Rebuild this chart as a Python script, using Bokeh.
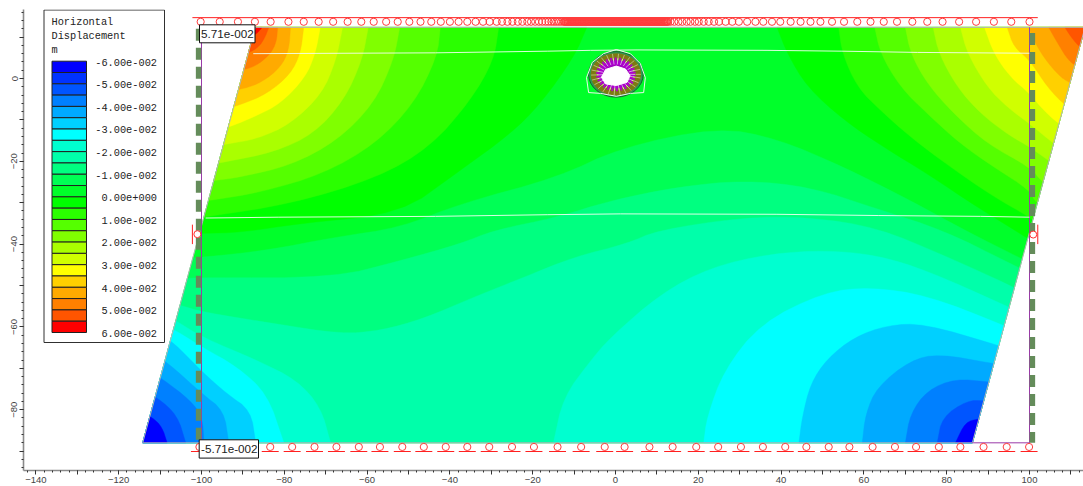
from bokeh.plotting import figure
from bokeh.embed import file_html
from bokeh.resources import INLINE
from bokeh.models import Range1d, FixedTicker
from bokeh.core.properties import value
import numpy as np

# ---- legend
LEGEND_TITLE = ["Horizontal", "Displacement", "m"]
LEGEND_LABELS = ["-6.00e-002", "-5.00e-002", "-4.00e-002", "-3.00e-002", "-2.00e-002", "-1.00e-002", "0.00e+000",
                 "1.00e-002", "2.00e-002", "3.00e-002", "4.00e-002", "5.00e-002", "6.00e-002"]
BAND_COLORS = ["#0000ff", "#0033ff", "#0055ff", "#0080ff", "#00aaff", "#00d0ff", "#00ffff", "#00ffd0", "#00ffaa",
               "#00ff80", "#00ff55", "#00ff2a", "#00ff00", "#2aff00", "#55ff00", "#80ff00", "#aaff00", "#d0ff00",
               "#ffff00", "#ffd000", "#ffaa00", "#ff8000", "#ff5500", "#ff0000"]

# ---- model outline
DOMAIN = [(-114.2, -88.0), (86.2, -88.0), (113.4, 12.35), (-87.0, 12.35)]

# ---- contour lines of the displacement field, level -> (x, y) along the line
TOP_LEFT = {
    0.0: [(-6.9, 12.4), (-10, 5.2), (-18.1, -6.1), (-25.4, -13.4), (-38.2, -22.7), (-51.9, -32.6), (-76.1, -35), (-90.6, -37.2), (-99.8, -37.4), (-106, -37.5)],
    0.005: [(-28.2, 12.4), (-29.4, 4.4), (-35, -5.3), (-44.7, -16.5), (-57.6, -24), (-78.5, -30.3), (-99.4, -33.5), (-104, -34)],
    0.01: [(-42.3, 12.4), (-43.1, 5.2), (-48.7, -6.1), (-58, -15.8), (-70.5, -23), (-85.7, -27.5), (-98.2, -29.5), (-103, -30)],
    0.015: [(-52.1, 12.4), (-53.6, 4.4), (-58.4, -6.1), (-67.2, -15), (-78.5, -21), (-90.6, -23.8), (-96.2, -24.6), (-101, -25)],
    0.02: [(-59.7, 12.4), (-61.2, 4.4), (-65.6, -5.3), (-72.9, -13.4), (-82.5, -17.8), (-94.6, -20.2), (-99, -21)],
    0.025: [(-65.9, 12.4), (-67.5, 4.4), (-70.9, -3.7), (-78.5, -11), (-86.6, -14.6), (-93.8, -15.8), (-99, -16.8)],
    0.03: [(-71.3, 12.4), (-72.5, 6), (-74.9, 0.3), (-80.9, -6.1), (-87.4, -9.3), (-92.2, -11.3), (-96, -12.5)],
    0.035: [(-75.3, 12.4), (-76.1, 6), (-78.5, 1.1), (-84.1, -3.7), (-91, -6.5), (-95, -7.5)],
    0.04: [(-78.5, 12.4), (-78.9, 6.8), (-80.9, 2.7), (-85.4, -0.9), (-89.8, -2.5), (-94, -3)],
    0.045: [(-81.6, 12.4), (-81.9, 8.8), (-83.3, 6), (-86.2, 3.5), (-88.8, 2.3), (-92, 2)],
    0.05: [(-83.7, 12.4), (-84.8, 9.6), (-86.2, 7.6), (-88.5, 6.2), (-92, 5.5)],
    0.055: [(-85.3, 12.4), (-87, 10.4), (-90, 10)],
}
TOP_RIGHT = {
    0.0: [(39, 12.4), (41.5, 6), (46.3, -2.1), (55.2, -10.1), (64.8, -16.6), (75.3, -23), (87.4, -31.1), (99.8, -38.7), (106, -43)],
    0.005: [(53.9, 12.4), (54.8, 6), (58.4, -2.1), (64, -7.7), (71.3, -14.2), (80.9, -21.4), (91.4, -28.6), (100.1, -33.5), (106, -38)],
    0.01: [(62.6, 12.4), (64, 6), (68.8, -2.1), (75.3, -8.5), (83.3, -15.8), (91.4, -21.4), (100.1, -27), (101.5, -30.2), (108, -34)],
    0.015: [(70, 12.4), (71.3, 6), (75.3, -1.3), (81.7, -8.5), (89.8, -15.8), (100.1, -21.4), (103.4, -25.4), (110, -29)],
    0.02: [(76.7, 12.4), (78.1, 6), (82.5, -2.1), (88.2, -8.5), (94.6, -13.4), (100.1, -16.6), (104.6, -19.8), (110, -24)],
    0.025: [(83.3, 12.4), (85, 6), (89.8, -2.1), (94.6, -6.9), (100.1, -11), (105.8, -15.7), (112, -20)],
    0.03: [(89.1, 12.4), (91.4, 6), (95.4, 0.3), (100.1, -3.7), (103.4, -7.7), (107, -10.9), (113, -15)],
    0.035: [(94.6, 12.4), (96.2, 7.6), (100.1, 4.4), (104.3, -2.1), (109, -7), (115, -10)],
    0.04: [(99.8, 12.4), (100.7, 9.9), (103.4, 5.1), (107.5, 0.2), (111.1, -1.7), (116, -2.5)],
    0.045: [(104.6, 12.4), (106.8, 8.5), (109.4, 4.3), (111.8, 2.7), (116, 1.8)],
    0.05: [(108.5, 12.4), (110.6, 9.2), (113, 6.8), (117, 5)],
}
ACROSS = {
    -0.005: [(-105, -43.4), (-99.8, -43.2), (-84.1, -41.5), (-68.1, -38.4), (-51.9, -36), (-37.4, -30.2), (-14, -23.9), (1.2, -16.7), (24.6, -11.8), (39, -14.5), (55.2, -21.4), (71.3, -29.5), (85, -37), (98, -43.5), (105, -47)],
    -0.01: [(-105, -48.3), (-99.8, -48.1), (-68.1, -48.1), (-51.9, -44), (-37.4, -39.9), (-29.5, -36.7), (-14.1, -33.5), (-1.2, -29.5), (14.9, -26.2), (31, -24.6), (47.1, -26.2), (63.2, -31.5), (79.3, -36.7), (95.4, -44.7), (104, -49)],
    -0.015: [(-108, -54), (-105, -54.8), (-99.8, -56.4), (-82.5, -59.2), (-66.4, -61.7), (-56.7, -60.9), (-46.3, -58), (-34.2, -52.8), (-22.1, -48), (-10, -43.1), (2.8, -39.9), (10, -36.7), (31, -33.5), (47.1, -33.5), (63.2, -36), (80, -43), (95.4, -50), (103, -54)],
}
BOTTOM_LEFT = {
    -0.02: [(-108, -57.5), (-105.7, -58.8), (-99.8, -62.5), (-86.5, -68.1), (-76.9, -72.9), (-71.2, -79.4), (-68.8, -88)],
    -0.025: [(-110, -59), (-106.2, -60.9), (-99.8, -64.9), (-91.3, -69.7), (-84.1, -76.2), (-80.1, -88)],
    -0.03: [(-110, -62), (-106.8, -63.7), (-99.8, -70.9), (-93.8, -76.2), (-88.1, -80.2), (-86.9, -88)],
    -0.035: [(-112, -66.5), (-108.3, -68.5), (-99.8, -76.2), (-94.6, -80.2), (-93.4, -88)],
    -0.04: [(-113, -70.5), (-109.5, -72.5), (-102.6, -77.8), (-99.8, -81.8), (-99.4, -88)],
    -0.045: [(-115, -75), (-110.7, -77), (-105.8, -81.4), (-103.8, -88)],
    -0.055: [(-116, -80), (-111.9, -81.8), (-109.5, -84.2), (-108.3, -88)],
}
BOTTOM_RIGHT = {
    -0.02: [(-15, -88), (-12.6, -77), (-6, -68.1), (-1.2, -62.5), (10.9, -52), (22.9, -45.6), (37.4, -42.3), (51.1, -41.5), (63.2, -42.7), (75.3, -46.4), (95, -55.2), (102, -58.5)],
    -0.025: [(21.3, -88), (22.1, -81.8), (26.2, -70.5), (35, -59.2), (50.3, -51.6), (61.6, -50.4), (75.3, -52.4), (93.8, -59.6), (101, -63)],
    -0.03: [(44.3, -88), (45.1, -81.8), (47.1, -73.7), (51.1, -67.7), (57.6, -62.5), (65.6, -59.6), (74.5, -59.2), (92.6, -64.5), (100, -67)],
    -0.035: [(59.6, -88), (60.4, -81), (63.2, -74.5), (71.2, -68.1), (78.1, -66.5), (91.4, -68.9), (99, -70)],
    -0.04: [(70, -88), (71.2, -81), (75.3, -75.3), (82.1, -72.5), (90.2, -73.3), (98, -74)],
    -0.045: [(77.7, -88), (78.9, -81.8), (84.9, -77.8), (89, -77.8), (97, -78)],
    -0.055: [(82.1, -88), (84.5, -83), (87.7, -82.2), (95, -81.5)],
}

# ---- material boundaries (thin pale lines)
BOUNDARY_UPPER = [(-87.5, 6), (-43.5, 6.2), (-16.5, 6.6), (-6, 6.8), (5.2, 6.9), (36.6, 6.8), (54.7, 6.6), (72.9, 6.3), (100, 6.1)]
BOUNDARY_LOWER = [(-99, -33.7), (-81.3, -33.5), (-43.5, -33.3), (-16.5, -32.9), (1.2, -32.7), (39, -32.8), (63.6, -33.1), (88.2, -33.3), (100, -33.5)]

# ---- restraints
TOP_NODES = [-100.2, -95.6, -91.2, -87.1, -83.3, -79, -75.3, -71.7, -68.2, -64.7, -61.4, -58.4, -55.4, -52.6, -49.8, -47.1, -44.5, -42.2, -40, -37.9, -35.8, -33.8, -32, -30.4, -28.7, -27.4, -26.1, -24.9, -23.6, -22.5, -21.3, -20.4, -19.4, -18.5, -17.7, -16.9, -16.2, -15.5, -14.9, -14.3, -13.7, -13.1,
             -12.5, -12.1, -11.7, -11.3, -10.9, -10.5, -10.1, -9.7, -9.3, -8.9, -8.5, -8.1, -7.7, -7.3, -6.9, -6.5, -6.1, -5.7, -5.3, -4.9, -4.5, -4.1, -3.7, -3.3, -2.9, -2.5, -2.1, -1.7, -1.3, -0.9, -0.5, -0.1, 0.3, 0.7, 1.1, 1.5, 1.9, 2.3, 2.7, 3.1, 3.5, 3.9, 4.3, 4.7, 5.1, 5.5, 5.9, 6.3, 6.7, 7.1, 7.5, 7.9, 8.3, 8.7, 9.1, 9.5, 9.9, 10.3, 10.7, 11.1, 11.5, 11.9, 12.3, 12.7,
             13.3, 14.2, 15.2, 16.1, 17.2, 18.1, 19.2, 20.1, 21.3, 22.5, 23.8, 25, 26.6, 28.2, 29.8, 31.8, 33.8, 35.7, 37.8, 39.8, 42.3, 44.7, 47.1, 49.5, 52.3, 55.2, 58.4, 61.6, 64.8, 68, 71.7, 75.3, 79, 83, 87.1, 91.4, 95.6, 100]
TOP_NODES_TIGHT = [-12.3, -11.9, -11.5, -11.1, -10.7, -10.3, -9.9, -9.5, -9.1, -8.7, -8.3, -7.9, -7.5, -7.1, -6.7, -6.3, -5.9, -5.5, -5.1, -4.7, -4.3, -3.9, -3.5, -3.1, -2.7, -2.3, -1.9, -1.5, -1.1, -0.7, -0.3, 0.1, 0.5, 0.9, 1.3, 1.7, 2.1, 2.5, 2.9, 3.3, 3.7, 4.1, 4.5, 4.9, 5.3, 5.7, 6.1, 6.5, 6.9, 7.3, 7.7, 8.1, 8.5, 8.9, 9.3, 9.7, 10.1, 10.5, 10.9, 11.3, 11.7, 12.1, 12.5]
BOTTOM_NODES = [-100.5, -95, -89, -83.4, -78.1, -72.7, -67.4, -62, -56.9, -51.5, -46.3, -41, -35.8, -30.5, -25, -19.7, -14, -8.3, -2.6, 2.2, 8.2, 13.8, 19.5, 24.8, 30.3, 35.6, 41, 46.1, 51.5, 56.5, 62.1, 67.5, 72.6, 78.1, 83.3, 88.9, 94.5, 99.9]
SIDE_NODES_X = [-101.0, 100.9]
SIDE_NODES_Y = [-37.6, -37.7]
TUNNEL_OUTLINE = [(-6.5, -3.4), (-7, 0.2), (-5.6, 3.9), (-2.9, 6), (0.2, 7), (3.6, 6), (6, 3.6), (7.2, 0.2), (6.8, -3.4), (3.6, -3.6), (0.2, -4.3), (-3.6, -3.6), (-6.5, -3.4)]
TUNNEL_HOLE = [(0.2, 3), (2.4, 2.3), (3.5, 0.7), (2.8, -0.9), (0.2, -1.7), (-2.4, -1.3), (-3.4, 0.3), (-2.4, 2.2)]
BOLT_ANGLES = [0, 14, 28, 42, 56, 70, 84, 98, 112, 126, 140, 154, 168, 182, 196, 210, 224, 238, 252, 266, 280, 294, 308, 322, 336, 350]

# ---- axes
X_LABELLED = [-140, -120, -100, -80, -60, -40, -20, 0, 20, 40, 60, 80, 100]
Y_LABELLED = [0, -20, -40, -60, -80]
X_TICKS = list(range(-140, 111, 10))
Y_TICKS = list(range(-90, 11, 10))
X_MINOR = list(range(-142, 113, 2))
Y_MINOR = list(range(-94, 17, 2))

# calibration of the screen layout
S, X0, Y0 = 4.14, 615.0, 78.0
fx = lambda px: (px - X0) / S
fy = lambda py: (Y0 - py) / S

p = figure(width=1083, height=486, frame_width=1060, frame_height=461,
           x_range=Range1d(fx(23), fx(1083)), y_range=Range1d(fy(470), fy(9)),
           output_backend="svg", toolbar_location=None, background_fill_color="white",
           min_border_left=23, min_border_right=0, min_border_top=9, min_border_bottom=16)
p.margin = 0
p.outline_line_color = None
p.grid.visible = False

for ax, ticks, minor, lab in ((p.xaxis[0], X_TICKS, X_MINOR, X_LABELLED), (p.yaxis[0], Y_TICKS, Y_MINOR, Y_LABELLED)):
    ax.ticker = FixedTicker(ticks=ticks, minor_ticks=minor)
    ax.major_label_overrides = {t: "" for t in ticks if t not in lab}
    ax.axis_line_color = "#8a8a8a"
    ax.axis_line_width = 1.6
    ax.major_tick_in = 0
    ax.major_tick_out = 4
    ax.minor_tick_in = 0
    ax.minor_tick_out = 2
    ax.major_tick_line_color = "#333333"
    ax.minor_tick_line_color = "#333333"
    ax.major_label_text_font = "Liberation Sans"
    ax.major_label_text_font_size = "9.5px"
    ax.major_label_text_color = "#444444"
    ax.major_label_standoff = 2
p.yaxis[0].major_label_orientation = "vertical"


def clip(poly):
    out = list(poly)
    for (ax_, ay_), (bx_, by_) in zip(DOMAIN, DOMAIN[1:] + DOMAIN[:1]):
        side = lambda q: (bx_ - ax_) * (q[1] - ay_) - (by_ - ay_) * (q[0] - ax_)
        res = []
        for a, b in zip(out, out[1:] + out[:1]):
            sa, sb = side(a), side(b)
            if sa >= 0:
                res.append(a)
            if sa * sb < 0:
                t = sa / (sa - sb)
                res.append((a[0] + t * (b[0] - a[0]), a[1] + t * (b[1] - a[1])))
        out = res
    return out


def rounded(line):
    """Round the corners of a contour line, as the reference's are (ends stay put)."""
    for _ in range(2):
        r = [line[0]]
        for a, b in zip(line, line[1:]):
            r.append((0.75 * a[0] + 0.25 * b[0], 0.75 * a[1] + 0.25 * b[1]))
            r.append((0.25 * a[0] + 0.75 * b[0], 0.25 * a[1] + 0.75 * b[1]))
        r.append(line[-1])
        line = r
    return line


def band(level, below):
    i = int(round((level + 0.06) / 0.005))
    return BAND_COLORS[i - 1 if below else i]


polys = [(DOMAIN, BAND_COLORS[11])]
for group, corner in ((TOP_LEFT, [(-100, 14)]), (TOP_RIGHT, [(125, 14)])):
    for lv in sorted(group):
        polys.append((rounded(group[lv]) + corner, band(lv, False)))
for lv in sorted(ACROSS, reverse=True):
    polys.append((rounded(ACROSS[lv]) + [(110, -92), (-125, -92)], band(lv, True)))
for group, corner in ((BOTTOM_LEFT, [(-118, -92)]), (BOTTOM_RIGHT, [(100, -92)])):
    for lv in sorted(group, reverse=True):
        polys.append((rounded(group[lv]) + corner, band(lv, True)))

xs, ys, cs = [], [], []
for poly, c in polys:
    q = clip(poly)
    xs.append([a for a, _ in q])
    ys.append([b for _, b in q])
    cs.append(c)
p.patches(xs, ys, fill_color=cs, line_color=cs, line_width=0.4)

# outline of the model
dx = [a for a, _ in DOMAIN] + [DOMAIN[0][0]]
dy = [b for _, b in DOMAIN] + [DOMAIN[0][1]]
p.line(dx, dy, line_color="#b4b4b4", line_width=1)
# external boundary
p.line([DOMAIN[3][0], -100, -100], [12.35, 12.35, -88], line_color="#9a3aa8", line_width=1)
p.line([DOMAIN[1][0], 100, 100], [-88, -88, 12.35], line_color="#9a3aa8", line_width=1)

for line in (BOUNDARY_UPPER, BOUNDARY_LOWER):
    p.line([a for a, _ in line], [b for _, b in line], line_color="#f2fff2", line_width=1, line_alpha=0.9)

# top restraints
p.line([-102.2, 102.0], [14.7, 14.7], line_color="#ff2020", line_width=1)
all_top = TOP_NODES + TOP_NODES_TIGHT
p.scatter(all_top, [13.7] * len(all_top), marker="circle", size=7.2, fill_color=None,
          line_color="#ff3c3c", line_width=1)
# bottom restraints
p.scatter(BOTTOM_NODES, [-89.0] * len(BOTTOM_NODES), marker="circle", size=7.2, fill_color=None,
          line_color="#ff3c3c", line_width=1)
p.segment([x - 2.05 for x in BOTTOM_NODES], [-90.1] * len(BOTTOM_NODES),
          [x + 2.05 for x in BOTTOM_NODES], [-90.1] * len(BOTTOM_NODES), line_color="#ff2020", line_width=1)

# piles on both sides
p.line([-100.7, -100.7], [12.0, -88], line_color="#648c5a", line_width=5.5, line_dash="12 7", line_cap="butt")
p.line([100.7, 100.7], [11.0, -88], line_color="#648c5a", line_width=5.5, line_dash="12 7", line_cap="butt")

# side restraints
p.segment([-102.2, 102.0], [-35.3, -35.3], [-102.2, 102.0], [-40.0, -40.0], line_color="#ff2020", line_width=1)
p.scatter(SIDE_NODES_X, SIDE_NODES_Y, marker="circle", size=7, fill_color="white", line_color="#ff3030", line_width=1)

# tunnel
CX, CY = 0.1, 1.0
ang = np.radians(BOLT_ANGLES)
p.ellipse([CX], [CY], width=13.2, height=11.0, fill_color="#2e9a55", line_color="#1c5a30", line_width=1)
p.ellipse([CX], [CY], width=12.2, height=10.2, fill_color="#7d7a12", line_color=None)
p.segment(CX + 3.8 * np.cos(ang), CY + 3.0 * np.sin(ang), CX + 6.0 * np.cos(ang), CY + 5.0 * np.sin(ang),
          line_color="#c8c88c", line_width=0.8)
p.ellipse([CX], [CY], width=8.4, height=6.8, fill_color="#a000c0", line_color=None)
p.segment(CX + 3.2 * np.cos(ang + 0.12), CY + 2.3 * np.sin(ang + 0.12), CX + 4.8 * np.cos(ang + 0.12),
          CY + 4.1 * np.sin(ang + 0.12), line_color="#b000d0", line_width=1.8)
p.segment(CX + 3.2 * np.cos(ang), CY + 2.4 * np.sin(ang), CX + 4.6 * np.cos(ang), CY + 3.9 * np.sin(ang),
          line_color="#f0e0f8", line_width=0.7)
p.patch([a for a, _ in TUNNEL_HOLE], [b for _, b in TUNNEL_HOLE], fill_color="white", line_color="white", line_width=1)
p.line([a for a, _ in TUNNEL_OUTLINE], [b for _, b in TUNNEL_OUTLINE], line_color="#eef8ee", line_width=1)

# legend box
p.quad(left=[fx(43.5)], right=[fx(164)], top=[fy(9.5)], bottom=[fy(342)], fill_color="white",
       line_color="#303030", line_width=1)
step = (332.0 - 60.7) / 24
tops = [fy(60.7 + i * step) for i in range(24)]
bots = [fy(60.7 + (i + 1) * step) for i in range(24)]
p.quad(left=[fx(51.5)] * 24, right=[fx(86)] * 24, top=tops, bottom=bots, fill_color=BAND_COLORS,
       line_color="#202020", line_width=1)
p.text([fx(51)] * 3, [fy(21.5), fy(35), fy(49)], text=LEGEND_TITLE, text_font=value("Liberation Mono"),
       text_font_size="10.3px", text_color="#222222", text_align="left", text_baseline="middle")
lab_y = [fy(61.5 + i * (332.7 - 61.5) / 12) for i in range(13)]
p.text([fx(156.5)] * 13, lab_y, text=LEGEND_LABELS, text_font=value("Liberation Mono"),
       text_font_size="10.3px", text_color="#222222", text_align="right", text_baseline="middle")

# extreme value tags
TAGS = ["5.71e-002", "-5.71e-002"]
p.quad(left=[fx(199), fx(198.7)], right=[fx(254.5), fx(258)], top=[fy(24.3), fy(439.3)], bottom=[fy(42.3), fy(457.6)],
       fill_color="white", line_color="#101010", line_width=1)
p.text([fx(200.5), fx(200.5)], [fy(33.5), fy(448.5)], text=TAGS, text_font=value("Liberation Sans"),
       text_font_size="11.7px", text_color="#222222", text_align="left", text_baseline="middle")

open("out.html", "w").write(file_html(p, INLINE))
